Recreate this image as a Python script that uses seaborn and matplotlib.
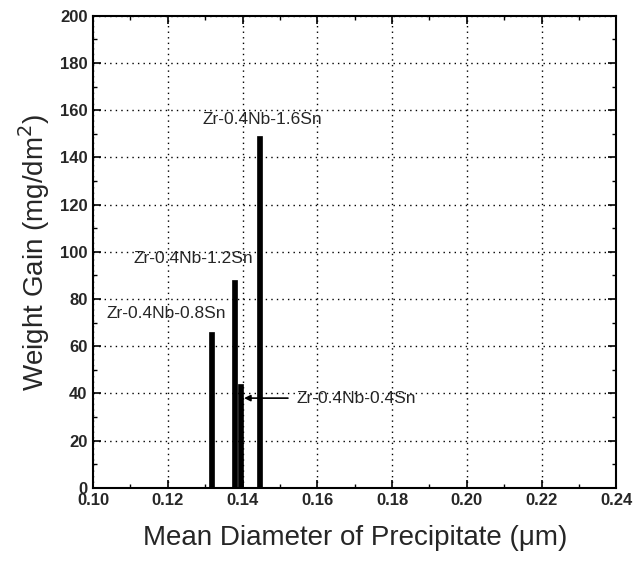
import matplotlib
matplotlib.use("Agg")
import matplotlib.pyplot as plt
from matplotlib.ticker import MultipleLocator, FormatStrFormatter
import seaborn as sns
import pandas as pd

# Alloy data: mean precipitate diameter (um) and weight gain (mg/dm2)
alloys = ["Zr-0.4Nb-0.8Sn", "Zr-0.4Nb-1.2Sn", "Zr-0.4Nb-0.4Sn", "Zr-0.4Nb-1.6Sn"]
diameter = [0.1318, 0.1379, 0.1395, 0.1446]
weight_gain = [66, 88, 44, 149]

x_ticks = [0.10, 0.12, 0.14, 0.16, 0.18, 0.20, 0.22, 0.24]
y_ticks = [0, 20, 40, 60, 80, 100, 120, 140, 160, 180, 200]

df = pd.DataFrame({"alloy": alloys, "diameter": diameter, "gain": weight_gain})

sns.set_style("white")
plt.rcParams["font.family"] = ["Liberation Sans", "DejaVu Sans"]

fig = plt.figure(figsize=(6.42, 5.62), dpi=100)
ax = fig.add_axes([0.145, 0.132, 0.815, 0.840])

sns.barplot(data=df, x="diameter", y="gain", native_scale=True, width=0.85,
            color="black", edgecolor="black", linewidth=0.5, saturation=1,
            ax=ax, zorder=3)

ax.set_xlim(0.10, 0.24)
ax.set_ylim(0, 200)
ax.set_xticks(x_ticks)
ax.set_yticks(y_ticks)
ax.xaxis.set_major_formatter(FormatStrFormatter("%.2f"))
ax.xaxis.set_minor_locator(MultipleLocator(0.01))
ax.yaxis.set_minor_locator(MultipleLocator(10))

ax.grid(True, which="major", linestyle=(0, (1, 3)), color="black", linewidth=1.0)
ax.set_axisbelow(True)

ax.tick_params(which="both", direction="in", top=True, right=True,
               bottom=True, left=True, color="black")
ax.tick_params(which="major", length=6, width=1.2, labelsize=12, pad=4)
ax.tick_params(which="minor", length=3, width=1.0)
for lbl in ax.get_xticklabels() + ax.get_yticklabels():
    lbl.set_fontweight("bold")

for s in ax.spines.values():
    s.set_color("black")
    s.set_linewidth(1.5)

ax.set_xlabel("Mean Diameter of Precipitate (\u03bcm)", fontsize=20, labelpad=12)
ax.set_ylabel("Weight Gain (mg/dm$^2$)", fontsize=20, labelpad=6)

# Alloy labels
ax.text(0.1453, 156, alloys[3], ha="center", va="center", fontsize=12.5)
ax.text(0.1267, 97, alloys[1], ha="center", va="center", fontsize=12.5)
ax.text(0.1195, 74, alloys[0], ha="center", va="center", fontsize=12.5)
ax.annotate(alloys[2], xy=(0.1404, 38), xytext=(0.1545, 38),
            ha="left", va="center", fontsize=12.5,
            arrowprops=dict(arrowstyle="-|>", color="black", lw=1.2,
                            shrinkA=4, shrinkB=0, mutation_scale=9))

fig.savefig("out.png", dpi=100)
